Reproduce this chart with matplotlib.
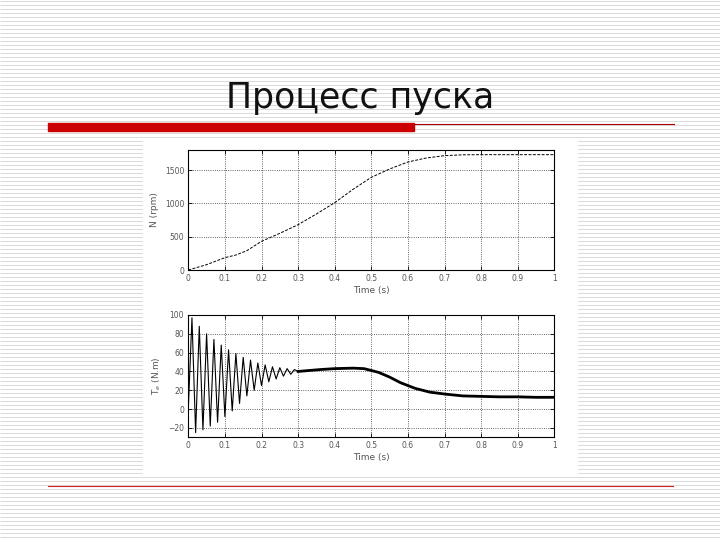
import numpy as np
import matplotlib
matplotlib.use('Agg')
import matplotlib.pyplot as plt
from matplotlib.patches import Rectangle

title = 'Процесс пуска'

# speed (rpm) vs time
t_speed = [0, 0.05, 0.10, 0.13, 0.16, 0.20, 0.25, 0.30, 0.35, 0.40, 0.45, 0.50,
           0.55, 0.60, 0.65, 0.70, 0.75, 0.80, 0.90, 1.0]
n_speed = [0, 80, 185, 225, 290, 430, 550, 680, 840, 1010, 1210, 1390,
           1515, 1620, 1680, 1715, 1728, 1730, 1730, 1730]

# torque: oscillating start (peaks / troughs)
t_osc = [0, 0.01, 0.02, 0.03, 0.04, 0.05, 0.06, 0.07, 0.08, 0.09, 0.10,
         0.11, 0.12, 0.13, 0.14, 0.15, 0.16, 0.17, 0.18, 0.19, 0.20,
         0.21, 0.22, 0.23, 0.24, 0.25, 0.26, 0.27, 0.28, 0.29, 0.30]
te_osc = [0, 97, -25, 88, -22, 80, -18, 74, -14, 68, -8,
          63, -2, 59, 6, 55, 14, 52, 20, 49, 25,
          47, 29, 45, 32, 44, 35, 43, 37, 42, 40]

# torque: smooth part after the transient
t_smooth = [0.30, 0.33, 0.36, 0.40, 0.45, 0.48, 0.52, 0.55, 0.58, 0.62, 0.66,
            0.70, 0.75, 0.80, 0.85, 0.90, 0.95, 1.0]
te_smooth = [40, 41, 42, 43, 43.5, 43, 39, 34, 28, 22, 18,
             16, 14, 13.5, 13, 13, 12.5, 12.5]

W, H = 720, 540
fig = plt.figure(figsize=(7.2, 5.4), dpi=100)

# slide background
bg = fig.add_axes([0, 0, 1, 1])
bg.set_xlim(0, W)
bg.set_ylim(H, 0)
bg.axis('off')
bg.hlines(np.arange(1, H, 4), 0, W, color='#dadada', lw=0.7)
bg.add_patch(Rectangle((143, 140), 434, 335, color='white', zorder=2))
bg.add_patch(Rectangle((48, 123), 366, 8, color='#cc0000', zorder=2))
bg.plot([414, 674], [124, 124], color='#aa0000', lw=0.8, zorder=2)
bg.plot([48, 673], [486, 486], color='#cc2222', lw=0.8, zorder=2)
bg.text(360, 98, title, ha='center', va='center', fontsize=25,
        family='DejaVu Sans', color='#111111', zorder=3)


def style(ax):
    ax.set_xlim(0, 1)
    ax.set_xticks(np.arange(0, 1.01, 0.1))
    ax.set_xticklabels(['0', '0.1', '0.2', '0.3', '0.4', '0.5', '0.6',
                        '0.7', '0.8', '0.9', '1'])
    ax.grid(True, linestyle=':', color='#333333', lw=0.6)
    ax.tick_params(direction='in', labelsize=5.5, labelcolor='#555555',
                   length=3, width=0.6, pad=3, top=True, right=True)
    for s in ax.spines.values():
        s.set_linewidth(0.8)
    ax.set_xlabel('Time (s)', fontsize=6.5, color='#555555', labelpad=2)


ax1 = fig.add_axes([188.3 / W, 1 - 270 / H, 366 / W, 120 / H])
ax1.plot(t_speed, n_speed, color='black', lw=0.7, dashes=(3, 1.5))
ax1.set_ylim(0, 1800)
ax1.set_yticks([0, 500, 1000, 1500])
ax1.set_ylabel('N (rpm)', fontsize=6.5, color='#555555', labelpad=4)
style(ax1)

ax2 = fig.add_axes([188.3 / W, 1 - 437.3 / H, 366 / W, 122.3 / H])
ax2.plot(t_osc, te_osc, color='black', lw=0.8)
ax2.plot(t_smooth, te_smooth, color='black', lw=2.0)
ax2.set_ylim(-30, 100)
ax2.set_yticks([-20, 0, 20, 40, 60, 80, 100])
ax2.set_ylabel('T$_e$ (N.m)', fontsize=6.5, color='#555555', labelpad=4)
style(ax2)

fig.savefig('out.png', dpi=100)
